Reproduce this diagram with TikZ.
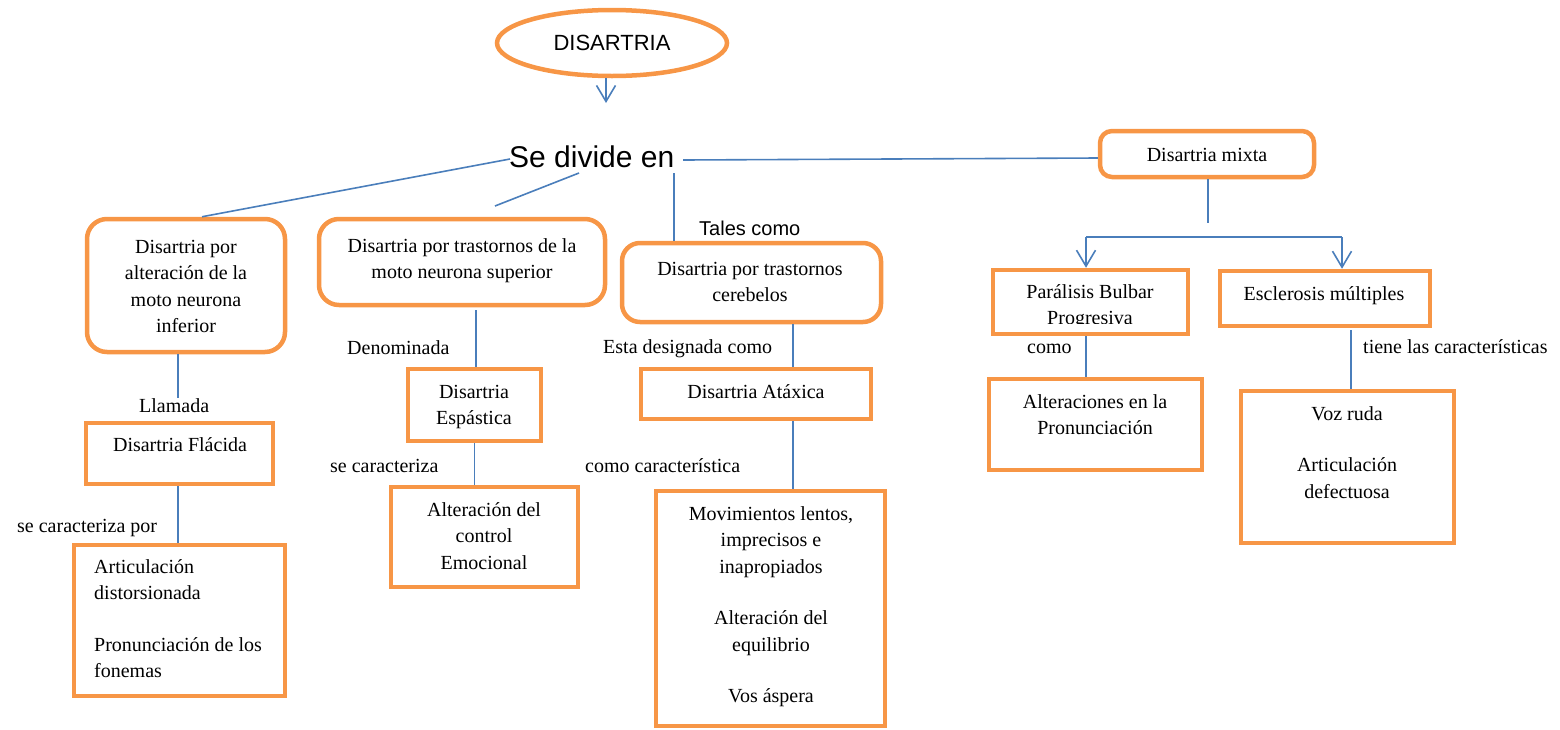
\documentclass[tikz,border=0pt]{standalone}
\usepackage{fontspec}
\setmainfont{Liberation Serif}
\newfontfamily\arialf{Liberation Sans}
\usetikzlibrary{arrows.meta,shapes.geometric,calc}
\definecolor{orng}{RGB}{247,150,70}
\definecolor{lblue}{RGB}{74,126,187}
\newcommand{\fst}{\rule{0pt}{16pt}}
\begin{document}
\begin{tikzpicture}[x=1pt,y=-1pt,
 rbox/.style={draw=orng, line width=4.5pt, rounded corners=20pt, inner sep=0pt},
 sbox/.style={draw=orng, line width=4.5pt, inner sep=0pt},
 txt/.style={font=\fontsize{20}{26.5}\selectfont, align=center, inner sep=0pt, anchor=north},
 lbl/.style={font=\fontsize{20}{26.5}\selectfont, inner sep=0pt, anchor=base west},
 conn/.style={draw=lblue, line width=1.6pt},
 arr/.style={conn, -{Straight Barb[length=16pt,width=19pt]}},
]
\useasboundingbox (0,0) rectangle (1560,729);

% title
\node[draw=orng, line width=4.5pt, ellipse, minimum width=230pt, minimum height=66pt, inner sep=0pt, font=\arialf\fontsize{22}{26}\selectfont] (dis) at (612,43) {\raisebox{-2.5pt}{DISARTRIA}\hspace{16pt}};
\coordinate (a1) at (606,103);
\draw[arr] (dis.south -| a1) -- (a1);

\node[font=\arialf\fontsize{30}{36}\selectfont, inner sep=0pt, anchor=base west] (sd) at (509,167) {Se divide en};

% first level
\node[rbox, minimum width=198pt, minimum height=133pt] (b1) at (186,285.5) {};
\node[txt] (b1t) at (186,237) {\fst Disartria por\\alteración de la\\moto neurona\\inferior};

\node[rbox, minimum width=286pt, minimum height=86pt] (b2) at (462,262) {};
\node[txt] (b2t) at (462,236) {\fst Disartria por trastornos de la\\moto neurona superior};

\node[rbox, rounded corners=18pt, minimum width=259pt, minimum height=79pt] (b3) at (751.5,282.5) {};
\node[txt] (b3t) at (750,259) {\fst Disartria por trastornos\\cerebelos};

\node[rbox, rounded corners=12pt, minimum width=214pt, minimum height=46pt] (b4) at (1207,154) {};
\node[txt] (b4t) at (1207,145) {\fst Disartria mixta};

% second level
\node[sbox, minimum width=187pt, minimum height=61pt] (fla) at (179.5,453.5) {};
\node[txt] (flat) at (180,435) {\fst Disartria Flácida};

\node[sbox, minimum width=133pt, minimum height=72pt] (esp) at (474.5,405) {};
\node[txt] (espt) at (474,382) {\fst Disartria\\Espástica};

\node[sbox, minimum width=230pt, minimum height=50pt] (ata) at (756,394) {};
\node[txt] (atat) at (756,382) {\fst Disartria Atáxica};

\node[sbox, minimum width=195pt, minimum height=64pt] (par) at (1090.5,302) {};
\begin{scope}
\clip (993,270) rectangle (1188,323);
\node[txt] (part) at (1090,282) {\fst Parálisis Bulbar\\Progresiva};
\end{scope}

\node[sbox, minimum width=210pt, minimum height=55pt] (esc) at (1325,298.5) {};
\node[txt] (esct) at (1324,284) {\fst Esclerosis múltiples};

% third level
\node[sbox, minimum width=211pt, minimum height=151pt] (art) at (179.5,620.5) {};
\node[txt, align=left, anchor=north west] (artt) at (94,557) {\fst Articulación\\distorsionada\\[25pt]Pronunciación de los\\fonemas};

\node[sbox, minimum width=187pt, minimum height=100pt] (alc) at (484.5,537) {};
\node[txt] (alct) at (484,500) {\fst Alteración del\\control\\Emocional};

\node[sbox, minimum width=229pt, minimum height=235pt] (mov) at (770.5,608.5) {};
\node[txt] (movt) at (771,504) {\fst Movimientos lentos,\\imprecisos e\\inapropiados\\[25pt]Alteración del\\equilibrio\\[25pt]Vos áspera};

\node[sbox, minimum width=213pt, minimum height=91pt] (alt) at (1095.5,424.5) {};
\node[txt] (altt) at (1095,392) {\fst Alteraciones en la\\Pronunciación};

\node[sbox, minimum width=213pt, minimum height=152pt] (voz) at (1347.5,467) {};
\node[txt] (vozt) at (1347,404) {\fst Voz ruda\\[25pt]Articulación\\defectuosa};

% labels
\node[lbl] (l1) at (139,412) {Llamada};
\node[lbl] (l2) at (347,354) {Denominada};
\node[lbl] (l3) at (17,532) {se caracteriza por};
\node[lbl] (l4) at (330,472) {se caracteriza};
\node[lbl] (l5) at (603,353) {Esta designada como};
\node[lbl] (l6) at (585,472) {como característica};
\node[lbl] (l7) at (1027,353) {como};
\node[lbl] (l8) at (1363,353) {tiene las características};
\node[lbl, font=\arialf\fontsize{20}{24}\selectfont] (l9) at (699,235) {Tales como};

% connectors from "Se divide en"
\coordinate (sdL) at (510,159);
\coordinate (sdM) at (579,173);
\coordinate (c2) at (495,206);
\coordinate (sdR) at (674,173);
\coordinate (sdE) at (683,160);
\draw[conn] (sdL) -- ([xshift=16pt]b1.north);
\draw[conn] (sdM) -- (c2);
\draw[conn] (sdR) -- (sdR |- b3.north);
\draw[conn] (sdE) -- ([yshift=-4pt]b4.west);

% vertical connectors
\draw[conn] ([xshift=-8pt]b1.south) -- ([xshift=-8pt]b1.south |- l1.north);
\draw[conn] ([xshift=-1.5pt]fla.south) -- ([xshift=-1.5pt]fla.south |- art.north);
\draw[conn] ([xshift=14pt,yshift=-3pt]b2.south) -- ([xshift=14pt]b2.south |- esp.north);
\draw[conn] (esp.south) -- (esp.south |- alc.north);
\draw[conn] ([xshift=41.5pt]b3.south) -- ([xshift=41.5pt]b3.south |- ata.north);
\draw[conn] ([xshift=37pt]ata.south) -- ([xshift=37pt]ata.south |- mov.north);

% mixta branch
\coordinate (m1) at (1208,223);
\draw[conn] (b4.south -| m1) -- (m1);
\coordinate (f1) at (1086,237);
\coordinate (f2) at (1342,237);
\draw[conn] (f1) -- (f2);
\draw[arr] (f1) -- (f1 |- par.north);
\draw[arr] (f2) -- (f2 |- esc.north);
\draw[conn] (par.south -| f1) -- (f1 |- alt.north);
\draw[conn] ([xshift=26pt,yshift=-2pt]esc.south) -- ([xshift=26pt]esc.south |- voz.north);
\end{tikzpicture}
\end{document}
